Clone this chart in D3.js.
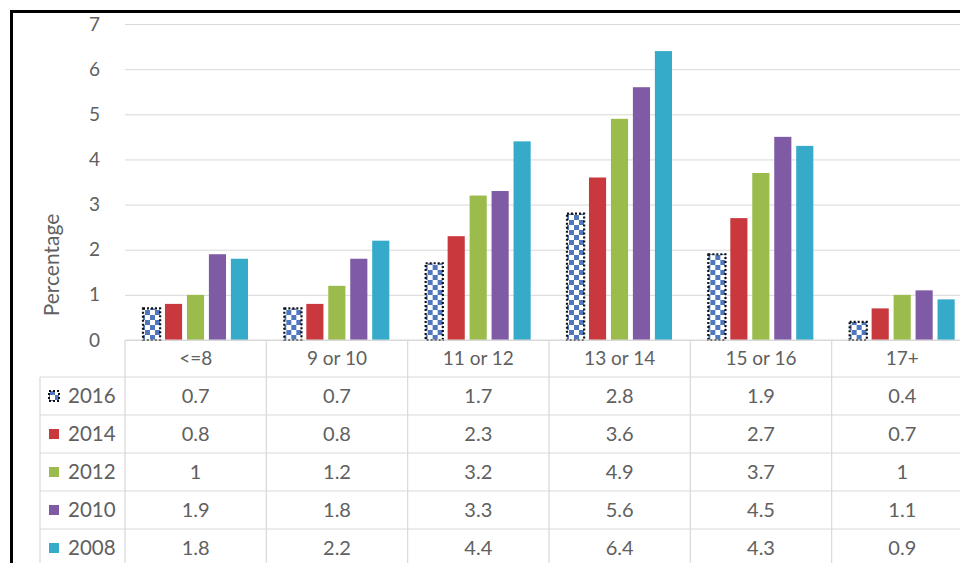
<!DOCTYPE html>
<html><head><meta charset="utf-8">
<script src="https://cdn.jsdelivr.net/npm/d3@7"></script>
<style>html,body{margin:0;padding:0;background:#fff}svg{display:block}</style>
</head><body>
<script>
const categories = ["<=8", "9 or 10", "11 or 12", "13 or 14", "15 or 16", "17+"];
const seriesNames = ["2016", "2014", "2012", "2010", "2008"];
const v2016 = [0.7, 0.7, 1.7, 2.8, 1.9, 0.4];
const v2014 = [0.8, 0.8, 2.3, 3.6, 2.7, 0.7];
const v2012 = [1, 1.2, 3.2, 4.9, 3.7, 1];
const v2010 = [1.9, 1.8, 3.3, 5.6, 4.5, 1.1];
const v2008 = [1.8, 2.2, 4.4, 6.4, 4.3, 0.9];
const yTicks = [0, 1, 2, 3, 4, 5, 6, 7];
const colors = ["url(#chk)", "#c9383d", "#9bbb4c", "#7f5ba6", "#36aac9"];
const seriesValues = [v2016, v2014, v2012, v2010, v2008];

const W = 960, H = 563;
const svg = d3.select("body").append("svg").attr("width", W).attr("height", H);
const defs = svg.append("defs");
const pat = defs.append("pattern").attr("id", "chk").attr("patternUnits", "userSpaceOnUse")
  .attr("width", 10).attr("height", 10);
pat.append("rect").attr("width", 10).attr("height", 10).attr("fill", "#ffffff");
pat.append("rect").attr("width", 5).attr("height", 5).attr("fill", "#4f77bd");
pat.append("rect").attr("x", 5).attr("y", 5).attr("width", 5).attr("height", 5).attr("fill", "#4f77bd");

const font = "Lato, 'Open Sans', sans-serif";
const textCol = "#606060";
const lineCol = "#d9d9d9";

const x0 = d3.scaleBand().domain(categories).range([125, 973]).paddingInner(0).paddingOuter(0);
const x1 = d3.scaleBand().domain(seriesNames).range([18, 123]).paddingInner(0.22).paddingOuter(0);
const y = d3.scaleLinear().domain([0, 7]).range([340, 24]);

// gridlines
const yAxis = d3.axisLeft(y).tickValues(yTicks).tickFormat(d3.format("d")).tickSize(-(W - 125)).tickPadding(25);
const gy = svg.append("g").attr("transform", "translate(125,0)").call(yAxis);
gy.select(".domain").remove();
gy.selectAll(".tick line").attr("stroke", lineCol).attr("stroke-width", 1);
gy.selectAll(".tick text").attr("fill", textCol).style("font-family", font).style("font-size", "19px");

// bars
const groups = svg.append("g").selectAll("g").data(categories).join("g")
  .attr("transform", d => `translate(${x0(d)},0)`);
groups.each(function(cat, ci) {
  const g = d3.select(this);
  seriesNames.forEach((s, si) => {
    const val = seriesValues[si][ci];
    const r = g.append("rect")
      .attr("x", x1(s)).attr("width", x1.bandwidth())
      .attr("y", y(val)).attr("height", y(0) - y(val))
      .attr("fill", colors[si]);
    if (si === 0) {
      r.attr("stroke", "#111").attr("stroke-width", 2.2).attr("stroke-dasharray", "2,2");
    }
  });
});

// table
const rowTop = 340, headerH = 37, rowH = 38;
const tbl = svg.append("g");
tbl.append("line").attr("x1", 125).attr("x2", W).attr("y1", rowTop).attr("y2", rowTop)
  .attr("stroke", lineCol).attr("stroke-width", 1.2);
for (let i = 0; i <= seriesNames.length; i++) {
  const yy = rowTop + headerH + i * rowH;
  tbl.append("line").attr("x1", 40).attr("x2", W).attr("y1", yy).attr("y2", yy)
    .attr("stroke", lineCol).attr("stroke-width", 1.2);
}
tbl.append("line").attr("x1", 40).attr("x2", 40).attr("y1", rowTop + headerH).attr("y2", H)
  .attr("stroke", lineCol).attr("stroke-width", 1.2);
categories.forEach(c => {
  tbl.append("line").attr("x1", x0(c)).attr("x2", x0(c)).attr("y1", rowTop).attr("y2", H)
    .attr("stroke", lineCol).attr("stroke-width", 1.2);
});
tbl.selectAll("text.cat").data(categories).join("text").attr("class", "cat")
  .attr("x", d => x0(d) + x0.bandwidth() / 2).attr("y", rowTop + headerH / 2 + 6)
  .attr("text-anchor", "middle").attr("fill", textCol)
  .style("font-family", font).style("font-size", "19px").text(d => d);
seriesNames.forEach((s, si) => {
  const cy = rowTop + headerH + si * rowH + rowH / 2;
  const sw = tbl.append("rect").attr("x", 49).attr("y", cy - 5).attr("width", 10).attr("height", 10)
    .attr("fill", colors[si]);
  if (si === 0) sw.attr("stroke", "#111").attr("stroke-width", 2).attr("stroke-dasharray", "2,2");
  tbl.append("text").attr("x", 68).attr("y", cy + 7).attr("fill", textCol)
    .style("font-family", font).style("font-size", "20.5px").text(s);
  categories.forEach((c, ci) => {
    tbl.append("text").attr("x", x0(c) + x0.bandwidth() / 2).attr("y", cy + 7)
      .attr("text-anchor", "middle").attr("fill", textCol)
      .style("font-family", font).style("font-size", "20px").text(seriesValues[si][ci]);
  });
});

svg.append("text").attr("transform", "translate(59,265) rotate(-90)")
  .attr("text-anchor", "middle").attr("fill", textCol)
  .style("font-family", font).style("font-size", "21px").text("Percentage");

svg.append("line").attr("x1", 11.5).attr("x2", W).attr("y1", 11.5).attr("y2", 11.5)
  .attr("stroke", "#000").attr("stroke-width", 3);
svg.append("line").attr("x1", 11.5).attr("x2", 11.5).attr("y1", 10).attr("y2", H)
  .attr("stroke", "#000").attr("stroke-width", 3);
</script>
</body></html>
